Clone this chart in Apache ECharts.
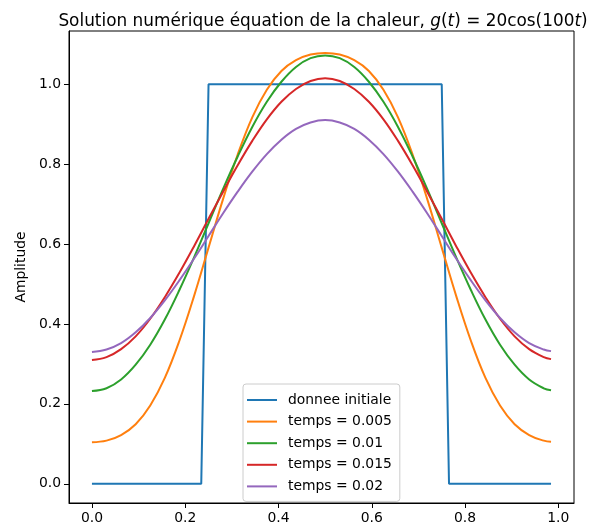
<!DOCTYPE html>
<html>
<head>
<meta charset="utf-8">
<script src="https://cdn.jsdelivr.net/npm/echarts@6/dist/echarts.min.js"></script>
<style>html,body{margin:0;padding:0;background:#fff;}#c{width:601px;height:529px;}</style>
</head>
<body>
<div id="c"></div>
<script>
const seriesNames = ['donnee initiale', 'temps = 0.005', 'temps = 0.01', 'temps = 0.015', 'temps = 0.02'];
const xTicks = [0, 0.2, 0.4, 0.6, 0.8, 1.0];
const yTicks = [0, 0.2, 0.4, 0.6, 0.8, 1.0];

const xInit = [0, 0.234375, 0.25, 0.75, 0.765625, 0.984375];
const yInit = [0, 0, 1, 1, 0, 0];

const xs = [0, 0.03125, 0.0625, 0.09375, 0.125, 0.15625, 0.1875, 0.21875, 0.25, 0.28125, 0.3125, 0.34375,
  0.375, 0.40625, 0.4375, 0.46875, 0.5, 0.53125, 0.5625, 0.59375, 0.625, 0.65625, 0.6875, 0.71875,
  0.75, 0.78125, 0.8125, 0.84375, 0.875, 0.90625, 0.9375, 0.96875, 0.984375];

const t005 = [0.104,0.108,0.122,0.149,0.196,0.265,0.358,0.469,0.591,0.713,0.824,0.917,0.986,1.033,1.060,1.074,1.078,1.074,1.060,1.033,0.986,0.917,0.824,0.713,0.591,0.469,0.358,0.265,0.196,0.149,0.122,0.108,0.105];
const t010 = [0.232,0.239,0.261,0.298,0.348,0.411,0.485,0.566,0.652,0.738,0.819,0.893,0.956,1.006,1.043,1.065,1.072,1.065,1.043,1.006,0.956,0.893,0.819,0.738,0.652,0.566,0.485,0.411,0.348,0.298,0.261,0.239,0.234];
const t015 = [0.310,0.317,0.337,0.369,0.413,0.467,0.528,0.594,0.663,0.731,0.797,0.858,0.912,0.956,0.988,1.008,1.015,1.008,0.988,0.956,0.912,0.858,0.797,0.731,0.663,0.594,0.528,0.467,0.413,0.369,0.337,0.317,0.312];
const t020 = [0.330,0.336,0.352,0.379,0.415,0.459,0.509,0.563,0.620,0.677,0.731,0.781,0.825,0.861,0.888,0.904,0.910,0.904,0.888,0.861,0.825,0.781,0.731,0.677,0.620,0.563,0.509,0.459,0.415,0.379,0.352,0.336,0.332];

const colors = ['#1f77b4', '#ff7f0e', '#2ca02c', '#d62728', '#9467bd'];
const FONT = 'DejaVu Sans';

function pairs(x, y) { return x.map((v, i) => [v, y[i]]); }
const allData = [pairs(xInit, yInit), pairs(xs, t005), pairs(xs, t010), pairs(xs, t015), pairs(xs, t020)];

const chart = echarts.init(document.getElementById('c'), null, { renderer: 'canvas' });
chart.setOption({
  animation: false,
  backgroundColor: '#fff',
  color: colors,
  title: {
    text: 'Solution numérique équation de la chaleur, {i|g}({i|t}) = 20cos(100{i|t})',
    left: 318, top: 8, textAlign: 'center',
    textStyle: {
      fontFamily: FONT, fontSize: 16.9, fontWeight: 'normal', color: '#000',
      rich: { i: { fontFamily: FONT, fontSize: 16.9, fontStyle: 'italic', color: '#000' } }
    }
  },
  grid: { left: 69, right: 27, top: 31, bottom: 26, show: true, borderColor: '#000', borderWidth: 1, backgroundColor: 'transparent' },
  legend: {
    orient: 'vertical', left: 243, top: 384,
    data: seriesNames, icon: 'rect', itemWidth: 30, itemHeight: 2, itemGap: 5.6,
    padding: [8, 8, 7, 4],
    borderColor: '#cccccc', borderWidth: 1, borderRadius: 3, backgroundColor: 'rgba(255,255,255,0.8)',
    textStyle: { fontFamily: FONT, fontSize: 13.9, color: '#000', lineHeight: 16, padding: [0, 0, 0, 6] }
  },
  xAxis: {
    type: 'value', min: -0.0492, max: 1.0336,
    axisLine: { show: true, onZero: false, lineStyle: { color: '#000', width: 1 } },
    axisTick: { show: true, customValues: xTicks, length: 5, lineStyle: { color: '#000' } },
    axisLabel: { customValues: xTicks, formatter: v => v.toFixed(1), fontFamily: FONT, fontSize: 13.9, color: '#000', margin: 8 },
    splitLine: { show: false }
  },
  yAxis: {
    type: 'value', min: -0.048, max: 1.133,
    name: 'Amplitude', nameLocation: 'middle', nameGap: 39, nameRotate: 90,
    nameTextStyle: { fontFamily: FONT, fontSize: 13.9, color: '#000' },
    axisLine: { show: true, onZero: false, lineStyle: { color: '#000', width: 1 } },
    axisTick: { show: true, customValues: yTicks, length: 5, lineStyle: { color: '#000' } },
    axisLabel: { customValues: yTicks, formatter: v => v.toFixed(1), fontFamily: FONT, fontSize: 13.9, color: '#000', margin: 8 },
    splitLine: { show: false }
  },
  series: seriesNames.map((n, i) => ({
    name: n, type: 'line', data: allData[i], showSymbol: false, symbol: 'none',
    smooth: i === 0 ? false : 0.4,
    lineStyle: { width: 2, color: colors[i] }, itemStyle: { color: colors[i] }, z: 2 + i
  }))
});
</script>
</body>
</html>
